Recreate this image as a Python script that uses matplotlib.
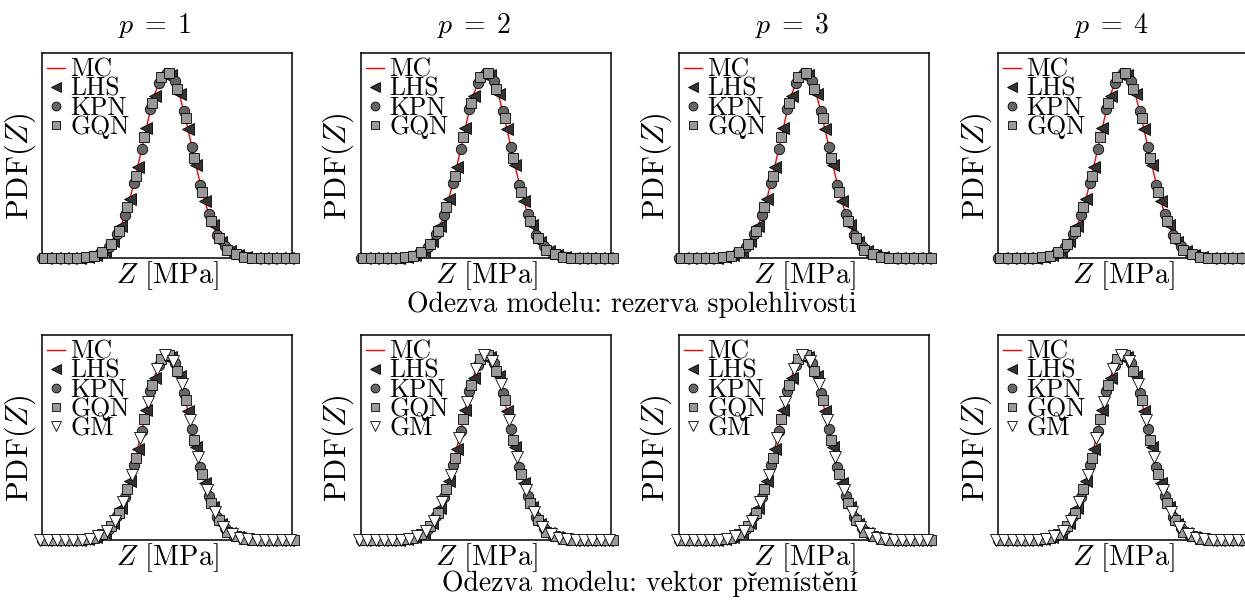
import matplotlib
matplotlib.use('Agg')
import matplotlib.pyplot as plt

plt.rcParams['font.family'] = ['cmr10', 'Liberation Serif', 'DejaVu Serif']
plt.rcParams['mathtext.fontset'] = 'cm'
plt.rcParams['axes.unicode_minus'] = False

# --- data (Z in arbitrary units centred on the mean) ---
mc_x = [-5.0, -4.75, -4.5, -4.25, -4.0, -3.75, -3.5, -3.25, -3.0, -2.75, -2.5,
        -2.25, -2.0, -1.75, -1.5, -1.25, -1.0, -0.75, -0.5, -0.25, 0.0,
        0.25, 0.5, 0.75, 1.0, 1.25, 1.5, 1.75, 2.0, 2.25, 2.5,
        2.75, 3.0, 3.25, 3.5, 3.75, 4.0, 4.25, 4.5, 4.75, 5.0]
mc_y = [0.0, 0.0, 0.0, 0.0, 0.0001, 0.0004, 0.0009, 0.002, 0.0044, 0.009, 0.018,
        0.032, 0.054, 0.086, 0.130, 0.183, 0.242, 0.301, 0.352, 0.387, 0.399,
        0.387, 0.352, 0.301, 0.242, 0.183, 0.130, 0.086, 0.054, 0.032, 0.018,
        0.009, 0.0044, 0.002, 0.0009, 0.0004, 0.0001, 0.0, 0.0, 0.0, 0.0]

lhs_x = [-4.93, -4.59, -4.25, -3.91, -3.57, -3.23, -2.89, -2.55, -2.21, -1.87,
         -1.53, -1.19, -0.85, -0.51, -0.17, 0.17, 0.51, 0.85, 1.19, 1.53,
         1.87, 2.21, 2.55, 2.89, 3.23, 3.57, 3.91, 4.25, 4.59, 4.93]
lhs_y = [0.0, 0.0, 0.0, 0.0, 0.001, 0.002, 0.006, 0.015, 0.036, 0.068,
         0.126, 0.195, 0.280, 0.348, 0.395, 0.392, 0.352, 0.276, 0.199, 0.122,
         0.070, 0.034, 0.016, 0.006, 0.002, 0.001, 0.0, 0.0, 0.0, 0.0]

kpn_x = [-5.10, -4.76, -4.42, -4.08, -3.74, -3.40, -3.06, -2.72, -2.38, -2.04,
         -1.70, -1.36, -1.02, -0.68, -0.34, 0.00, 0.34, 0.68, 1.02, 1.36,
         1.70, 2.04, 2.38, 2.72, 3.06, 3.40, 3.74, 4.08, 4.42, 4.76, 5.10]
kpn_y = [0.0, 0.0, 0.0, 0.0, 0.0003, 0.001, 0.004, 0.011, 0.023, 0.051,
         0.093, 0.160, 0.235, 0.319, 0.375, 0.397, 0.379, 0.315, 0.239, 0.156,
         0.095, 0.049, 0.025, 0.009, 0.004, 0.001, 0.0003, 0.0, 0.0, 0.0, 0.0]

gqn_x = [-5.02, -4.68, -4.34, -4.00, -3.66, -3.32, -2.98, -2.64, -2.30, -1.96,
         -1.62, -1.28, -0.94, -0.60, -0.26, 0.08, 0.42, 0.76, 1.10, 1.44,
         1.78, 2.12, 2.46, 2.80, 3.14, 3.48, 3.82, 4.16, 4.50, 4.84, 5.18]
gqn_y = [0.0, 0.0, 0.0, 0.0, 0.0005, 0.002, 0.005, 0.012, 0.030, 0.058,
         0.109, 0.176, 0.260, 0.332, 0.388, 0.398, 0.363, 0.300, 0.215, 0.141,
         0.080, 0.043, 0.018, 0.008, 0.003, 0.001, 0.0, 0.0, 0.0, 0.0, 0.0]

gm_x = [-5.18, -4.84, -4.50, -4.16, -3.82, -3.48, -3.14, -2.80, -2.46, -2.12,
        -1.78, -1.44, -1.10, -0.76, -0.42, -0.08, 0.26, 0.60, 0.94, 1.28,
        1.62, 1.96, 2.30, 2.64, 2.98, 3.32, 3.66, 4.00, 4.34, 4.68, 5.02]
gm_y = [0.0, 0.0, 0.0, 0.0, 0.0, 0.001, 0.003, 0.008, 0.020, 0.041,
        0.082, 0.139, 0.218, 0.297, 0.366, 0.398, 0.385, 0.335, 0.257, 0.178,
        0.107, 0.060, 0.028, 0.012, 0.005, 0.002, 0.0005, 0.0, 0.0, 0.0, 0.0]

col_titles = [r'$p\;=\;1$', r'$p\;=\;2$', r'$p\;=\;3$', r'$p\;=\;4$']
row_titles = ['Odezva modelu: rezerva spolehlivosti',
              'Odezva modelu: vektor přemístění']
row_methods = [['LHS', 'KPN', 'GQN'], ['LHS', 'KPN', 'GQN', 'GM']]

series = {
    'LHS': (lhs_x, lhs_y),
    'KPN': (kpn_x, kpn_y),
    'GQN': (gqn_x, gqn_y),
    'GM': (gm_x, gm_y),
}
styles = {
    'LHS': dict(marker='<', markerfacecolor='#333333', markersize=8),
    'KPN': dict(marker='o', markerfacecolor='#666666', markersize=7.5),
    'GQN': dict(marker='s', markerfacecolor='#999999', markersize=6.5),
    'GM': dict(marker='v', markerfacecolor='white', markersize=8),
}

W, H = 1245, 600
fig = plt.figure(figsize=(W / 100, H / 100), dpi=100)

lefts = [42, 361, 679, 998]
tops = [53, 335]
ax_w, ax_h = 250, 205

for r in range(2):
    for c in range(4):
        ax = fig.add_axes([lefts[c] / W, 1 - (tops[r] + ax_h) / H, ax_w / W, ax_h / H])
        ax.plot(mc_x, mc_y, color='red', lw=1.0, label='MC', zorder=2)
        for m in row_methods[r]:
            xs, ys = series[m]
            ax.plot(xs, ys, linestyle='none', markeredgecolor='black',
                    markeredgewidth=0.6, clip_on=False, label=m, zorder=3,
                    **styles[m])
        ax.set_xlim(-5.1, 5.1)
        ax.set_ylim(0, 0.44)
        ax.set_xticks([])
        ax.set_yticks([])
        for s in ax.spines.values():
            s.set_linewidth(1.1)
        ax.set_xlabel('$Z$ [MPa]', fontsize=20.5, labelpad=1)
        ax.set_ylabel('PDF$(Z)$', fontsize=22)
        ax.yaxis.set_label_coords(-0.018, 0.45)
        leg = ax.legend(loc='upper left', frameon=False, fontsize=18.5,
                        handlelength=0.7, handletextpad=0.2, labelspacing=-0.18,
                        borderaxespad=0.15, borderpad=0.05, markerscale=0.85)
        leg.set_zorder(5)

for c in range(4):
    fig.text((lefts[c] + 113) / W, 1 - 25 / H, col_titles[c], fontsize=20,
             ha='center', va='center')

fig.text(632 / W, 1 - 305 / H, row_titles[0], fontsize=20, ha='center', va='center')
fig.text(650 / W, 1 - 584 / H, row_titles[1], fontsize=20, ha='center', va='center')

fig.savefig('out.png', dpi=100)
